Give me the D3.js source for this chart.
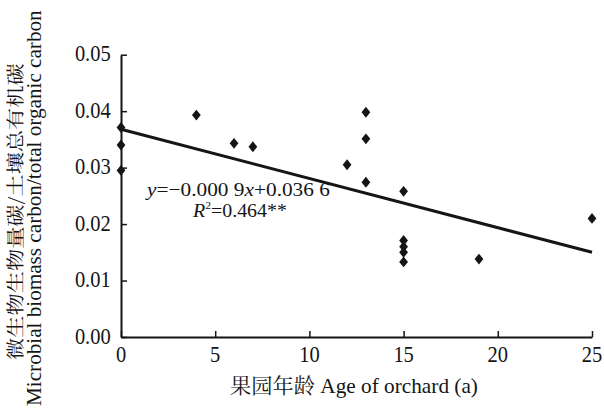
<!DOCTYPE html>
<html><head><meta charset="utf-8">
<script src="https://cdn.jsdelivr.net/npm/d3@7/dist/d3.min.js"></script>
<style>body{margin:0;background:#fff;} svg{display:block;}</style>
</head><body>
<script>
const ages = [0, 0, 0, 4, 6, 7, 12, 13, 13, 13, 15, 15, 15, 15, 15, 19, 25];
const ratios = [0.0371, 0.0340, 0.0295, 0.0393, 0.0343, 0.0337, 0.0305, 0.0398, 0.0351, 0.0274, 0.0258, 0.0171, 0.0160, 0.0150, 0.0133, 0.0138, 0.0210];
const trendX = [0, 25];
const trendY = [0.0368, 0.0150];
const xTicks = [0, 5, 10, 15, 20, 25];
const yTicks = [0, 0.01, 0.02, 0.03, 0.04, 0.05];
const xTitleCN = "果园年龄";
const xTitleEN = " Age of orchard (a)";
const yTitle1 = "微生物生物量碳/土壤总有机碳";
const yTitle2 = "Microbial biomass carbon/total organic carbon";

const W = 604, H = 408;
const svg = d3.select("body").append("svg").attr("width", W).attr("height", H);
const font = "Liberation Serif";
const cjk = "Noto Serif CJK SC";
const ink = "#151515";
const x = d3.scaleLinear().domain([0, 25]).range([121, 592]);
const y = d3.scaleLinear().domain([0, 0.05]).range([337, 54.7]);
const sx = 0.89;

function fit(sel, tx, ty, target, rot) {
  const w = sel.node().getComputedTextLength();
  const k = target / w;
  sel.attr("transform", `translate(${tx},${ty})${rot ? " rotate(" + rot + ")" : ""} scale(${k},1)`);
}

// axes
const xa = svg.append("g").attr("transform", `translate(0,${y(0)})`)
  .call(d3.axisBottom(x).tickValues(xTicks).tickSizeInner(-6).tickSizeOuter(0).tickFormat(() => ""));
const ya = svg.append("g").attr("transform", `translate(${x(0)},0)`)
  .call(d3.axisLeft(y).tickValues(yTicks).tickSizeInner(-6).tickSizeOuter(0).tickFormat(() => ""));
[xa, ya].forEach(g => {
  g.select(".domain").attr("stroke", ink).attr("stroke-width", 2);
  g.selectAll(".tick line").attr("stroke", ink).attr("stroke-width", 1.5);
});
// tick labels
svg.append("g").selectAll("text").data(xTicks).join("text")
  .attr("transform", d => `translate(${x(d)},362) scale(${sx},1)`)
  .attr("text-anchor", "middle").attr("font-family", font).attr("font-size", 23).attr("fill", ink)
  .text(d => d3.format("d")(d));
svg.append("g").selectAll("text").data(yTicks).join("text")
  .attr("transform", d => `translate(110.7,${y(d) + 6.5}) scale(${sx},1)`)
  .attr("text-anchor", "end").attr("font-family", font).attr("font-size", 23).attr("fill", ink)
  .text(d => d3.format(".2f")(d));

// trend line
svg.append("line")
  .attr("x1", x(trendX[0])).attr("y1", y(trendY[0]))
  .attr("x2", x(trendX[1])).attr("y2", y(trendY[1]))
  .attr("stroke", ink).attr("stroke-width", 3);

// points
const sym = d3.symbol().type(d3.symbolDiamond).size(34);
svg.append("g").selectAll("path").data(ages.map((a, i) => [a, ratios[i]])).join("path")
  .attr("d", sym).attr("transform", d => `translate(${x(d[0])},${y(d[1])}) scale(1.4,1)`)
  .attr("fill", ink);

// equation
const eq = svg.append("text").attr("font-family", font).attr("font-size", 19).attr("fill", ink);
eq.append("tspan").attr("font-style", "italic").text("y");
eq.append("tspan").text("=−0.000 9");
eq.append("tspan").attr("font-style", "italic").text("x");
eq.append("tspan").text("+0.036 6");
fit(eq, 147, 196.3, 183);
const r2 = svg.append("text").attr("font-family", font).attr("font-size", 19).attr("fill", ink);
r2.append("tspan").attr("font-style", "italic").text("R");
r2.append("tspan").attr("font-size", 11).attr("dy", -8).text("2");
r2.append("tspan").attr("dy", 8).text("=0.464**");
fit(r2, 193, 216.7, 94);

// axis titles
const xt = svg.append("text").attr("font-size", 21).attr("fill", ink);
xt.append("tspan").attr("font-family", cjk).text(xTitleCN);
xt.append("tspan").attr("font-family", font).text(xTitleEN);
fit(xt, 230, 393, 248);
const yt1 = svg.append("text").attr("font-family", cjk).attr("font-size", 18).attr("fill", ink).text(yTitle1);
fit(yt1, 22, 360, 297, -90);
const yt2 = svg.append("text").attr("font-family", font).attr("font-size", 20).attr("fill", ink).text(yTitle2);
fit(yt2, 41, 406, 396, -90);
</script>
</body></html>
